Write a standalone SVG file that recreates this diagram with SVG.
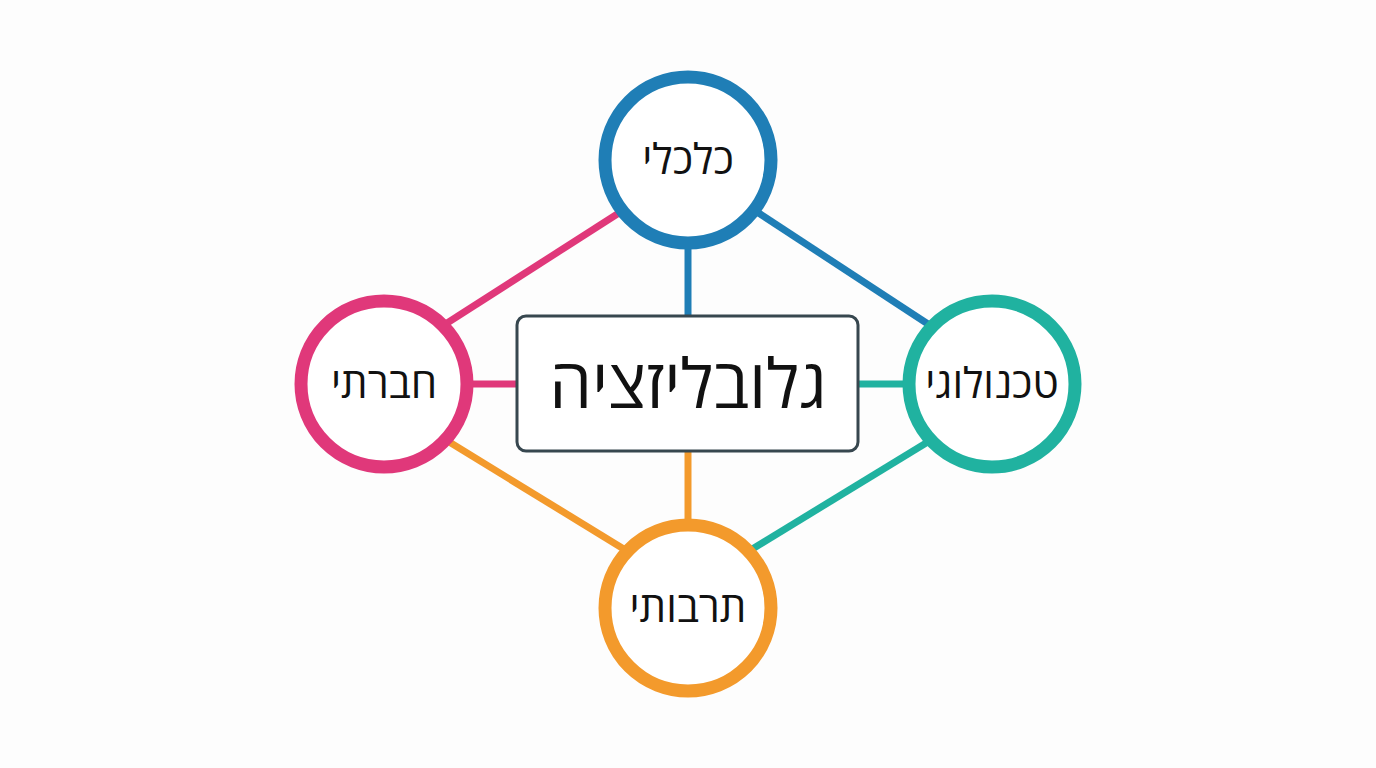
<svg xmlns="http://www.w3.org/2000/svg" width="1376" height="768" viewBox="0 0 1376 768">
<style>
.node{fill:#ffffff;stroke-width:13}
.lbl{font-family:"Open Sans","Liberation Sans","DejaVu Sans",sans-serif;font-size:42px;fill:#111111;text-anchor:middle;dominant-baseline:central}
.conn{stroke-width:7;fill:none}
</style>
<rect width="1376" height="768" fill="#fdfdfd"/>
<g id="connectors">
<line class="conn" x1="444" y1="325" x2="622" y2="211" stroke="#e0387a"/>
<line class="conn" x1="754" y1="210" x2="931" y2="326" stroke="#1f7eb6"/>
<line class="conn" x1="446" y1="440" x2="627" y2="551" stroke="#f39a2c"/>
<line class="conn" x1="931" y1="440" x2="749" y2="551" stroke="#20b2a0"/>
<line class="conn" x1="688" y1="240" x2="688" y2="318" stroke="#1f7eb6"/>
<line class="conn" x1="688" y1="450" x2="688" y2="528" stroke="#f39a2c"/>
<line class="conn" x1="464" y1="384" x2="518" y2="384" stroke="#e0387a"/>
<line class="conn" x1="858" y1="384" x2="912" y2="384" stroke="#20b2a0"/>
</g>
<g id="center">
<rect x="517" y="316" width="341" height="135" rx="9" fill="#ffffff" stroke="#37474f" stroke-width="3"/>
<text class="lbl" x="688" y="381" style="font-size:68px">גלובליזציה</text>
</g>
<g id="economic">
<circle class="node" cx="688" cy="160" r="83" stroke="#1f7eb6"/>
<text class="lbl" x="688" y="157">כלכלי</text>
</g>
<g id="social">
<circle class="node" cx="384" cy="384" r="83" stroke="#e0387a"/>
<text class="lbl" x="384" y="381">חברתי</text>
</g>
<g id="tech">
<circle class="node" cx="992" cy="384" r="83" stroke="#20b2a0"/>
<text class="lbl" x="992" y="381">טכנולוגי</text>
</g>
<g id="cultural">
<circle class="node" cx="688" cy="608" r="83" stroke="#f39a2c"/>
<text class="lbl" x="688" y="605">תרבותי</text>
</g>
</svg>
